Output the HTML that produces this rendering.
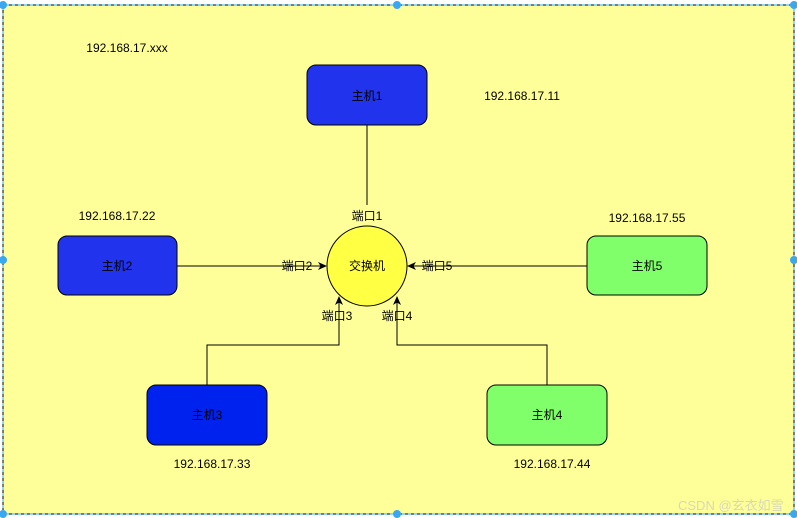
<!DOCTYPE html>
<html><head><meta charset="utf-8"><style>
html,body{margin:0;padding:0;background:#fff;}
svg{display:block;}
text{font-family:"Liberation Sans","Noto Sans CJK SC",sans-serif;font-size:12px;fill:#000;}
</style></head><body>
<svg width="797" height="518" viewBox="0 0 797 518" xmlns="http://www.w3.org/2000/svg">
<defs>
<marker id="a" markerWidth="10" markerHeight="10" refX="8" refY="5" orient="auto" markerUnits="userSpaceOnUse">
<path d="M0,1 L9,5 L0,9 L2.5,5 Z" fill="#000"/>
</marker>
</defs>
<rect x="3" y="5" width="791" height="509" fill="#ffff99" stroke="#000" stroke-dasharray="3,3" stroke-width="1"/>
<rect x="3" y="5" width="791" height="509" fill="none" stroke="#29b6f2" stroke-dasharray="3,3" stroke-dashoffset="3" stroke-width="1"/>

<!-- connectors -->
<line x1="367" y1="125" x2="367" y2="205" stroke="#000"/>
<line x1="177" y1="266" x2="326" y2="266" stroke="#000" marker-end="url(#a)"/>
<line x1="587" y1="266" x2="408" y2="266" stroke="#000" marker-end="url(#a)"/>
<polyline points="207,385 207,345 339,345 339,297" fill="none" stroke="#000" marker-end="url(#a)"/>
<polyline points="547,385 547,345 397,345 397,297" fill="none" stroke="#000" marker-end="url(#a)"/>

<circle cx="367" cy="266" r="40" fill="#ffff44" stroke="#000"/>
<text x="367" y="270" text-anchor="middle">交换机</text>

<rect x="307" y="65" width="120" height="60" rx="9" fill="#2233ee" stroke="#000"/>
<text x="367" y="100" text-anchor="middle">主机1</text>
<rect x="58" y="236" width="119" height="59" rx="9" fill="#2233ee" stroke="#000"/>
<text x="117" y="270" text-anchor="middle">主机2</text>
<rect x="587" y="236" width="120" height="59" rx="9" fill="#80ff6a" stroke="#000"/>
<text x="647" y="270" text-anchor="middle">主机5</text>
<rect x="147" y="385" width="120" height="60" rx="9" fill="#0022ee" stroke="#000"/>
<text x="207" y="419" text-anchor="middle">主机3</text>
<rect x="487" y="385" width="120" height="60" rx="9" fill="#80ff6a" stroke="#000"/>
<text x="547" y="419" text-anchor="middle">主机4</text>

<text x="367" y="220" text-anchor="middle">端口1</text>
<text x="297" y="270" text-anchor="middle">端口2</text>
<text x="437" y="270" text-anchor="middle">端口5</text>
<text x="337" y="320" text-anchor="middle">端口3</text>
<text x="397" y="320" text-anchor="middle">端口4</text>

<text x="127" y="52" text-anchor="middle" font-size="11">192.168.17.xxx</text>
<text x="522" y="100" text-anchor="middle">192.168.17.11</text>
<text x="117" y="220" text-anchor="middle">192.168.17.22</text>
<text x="647" y="222" text-anchor="middle">192.168.17.55</text>
<text x="212" y="468" text-anchor="middle">192.168.17.33</text>
<text x="552" y="468" text-anchor="middle">192.168.17.44</text>

<text x="678" y="510" style="font-size:13px;fill:#d8d8b8">CSDN @玄衣如雪</text>

<g fill="#3aa8f0">
<circle cx="3" cy="5" r="4"/><circle cx="397" cy="5" r="4"/><circle cx="794" cy="5" r="4"/>
<circle cx="3" cy="260" r="4"/><circle cx="794" cy="260" r="4"/>
<circle cx="3" cy="514" r="4"/><circle cx="397" cy="514" r="4"/><circle cx="794" cy="514" r="4"/>
</g>
</svg>
</body></html>
